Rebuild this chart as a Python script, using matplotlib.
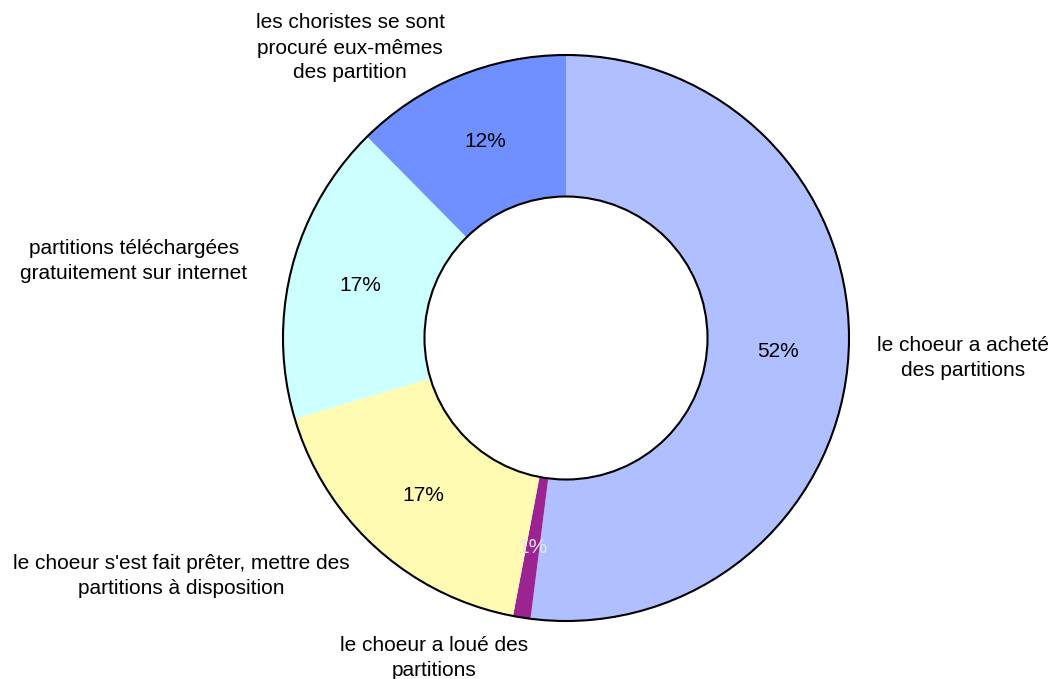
import matplotlib.pyplot as plt
from matplotlib.patches import Circle

plt.rcParams['font.family'] = ['Liberation Sans', 'DejaVu Sans']

# data, clockwise from 12 o'clock
categories = ['le choeur a acheté\ndes partitions',
              'le choeur a loué des\npartitions',
              "le choeur s'est fait prêter, mettre des\npartitions à disposition",
              'partitions téléchargées\ngratuitement sur internet',
              'les choristes se sont\nprocuré eux-mêmes\ndes partition']
shares = [52.0, 1.0, 17.4, 17.2, 12.4]
colors = ['#b0bfff', '#9c2492', '#fffbb2', '#ccffff', '#7090ff']

# label centres in pixels (x, y from top)
label_pos = [(963, 358), (434, 658), (181, 576), (134, 261), (350, 48)]

W, H = 1054, 679
fig = plt.figure(figsize=(W/100, H/100), dpi=100)
ax = fig.add_axes([0, 0, 1, 1])

cx, cy, R = 566, H - 338, 283
wedges, texts, autotexts = ax.pie(shares, colors=colors, startangle=90, counterclock=False,
                                  center=(cx, cy), radius=R, autopct='%1.0f%%',
                                  pctdistance=0.75, wedgeprops=dict(width=R*0.5, linewidth=0),
                                  textprops=dict(fontsize=15), frame=True)
ax.set_xlim(0, W)
ax.set_ylim(0, H)
ax.axis('off')
autotexts[1].set_color('#e6e6e6')

ax.add_patch(Circle((cx, cy), R, fill=False, edgecolor='black', lw=1.5))
ax.add_patch(Circle((cx, cy), R*0.5, fill=False, edgecolor='black', lw=1.5))

for lab, (x, y) in zip(categories, label_pos):
    ax.text(x, H - y, lab, ha='center', va='center', fontsize=15, multialignment='center',
            linespacing=1.4)

plt.savefig('out.png', dpi=100)
